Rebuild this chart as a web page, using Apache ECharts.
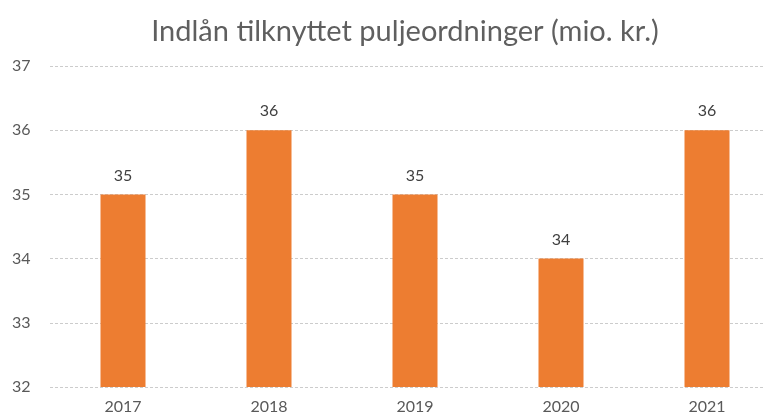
<!DOCTYPE html>
<html><head><meta charset="utf-8">
<script src="https://cdn.jsdelivr.net/npm/echarts@6/dist/echarts.min.js"></script>
<style>html,body{margin:0;padding:0;background:#fff}#c{width:765px;height:416px}</style>
</head><body><div id="c"></div>
<script>
const categories = ['2017','2018','2019','2020','2021'];
const values = [35, 36, 35, 34, 36];
const yTicks = [32, 33, 34, 35, 36, 37];

const chart = echarts.init(document.getElementById('c'), null, {renderer:'canvas'});
chart.setOption({
  animation: false,
  title: {
    text: 'Indlån tilknyttet puljeordninger (mio. kr.)',
    left: 400, top: 12, textAlign: 'center',
    textStyle: {fontFamily: 'Lato', fontSize: 29, fontWeight: 'normal', color: '#5f5f5f'}
  },
  grid: {left: 50, width: 730, top: 66, bottom: 29, containLabel: false, outerBoundsMode: 'none'},
  xAxis: {
    type: 'category', data: categories,
    axisLine: {show: false},
    axisTick: {show: false},
    axisLabel: {fontFamily: 'Lato', fontSize: 16, color: '#595959', margin: 12}
  },
  yAxis: {
    type: 'value', min: yTicks[0], max: yTicks[yTicks.length-1], interval: 1,
    axisLine: {show: false}, axisTick: {show: false},
    axisLabel: {fontFamily: 'Lato', fontSize: 16, color: '#595959', margin: 38, align: 'left'},
    splitLine: {lineStyle: {color: '#cccccc', type: [3, 2], width: 1}}
  },
  series: [{
    type: 'bar', data: values, barWidth: 45,
    itemStyle: {color: '#ED7D31'},
    label: {show: true, position: 'top', distance: 11, fontFamily: 'Lato', fontSize: 16, color: '#404040'}
  }]
});
</script></body></html>
